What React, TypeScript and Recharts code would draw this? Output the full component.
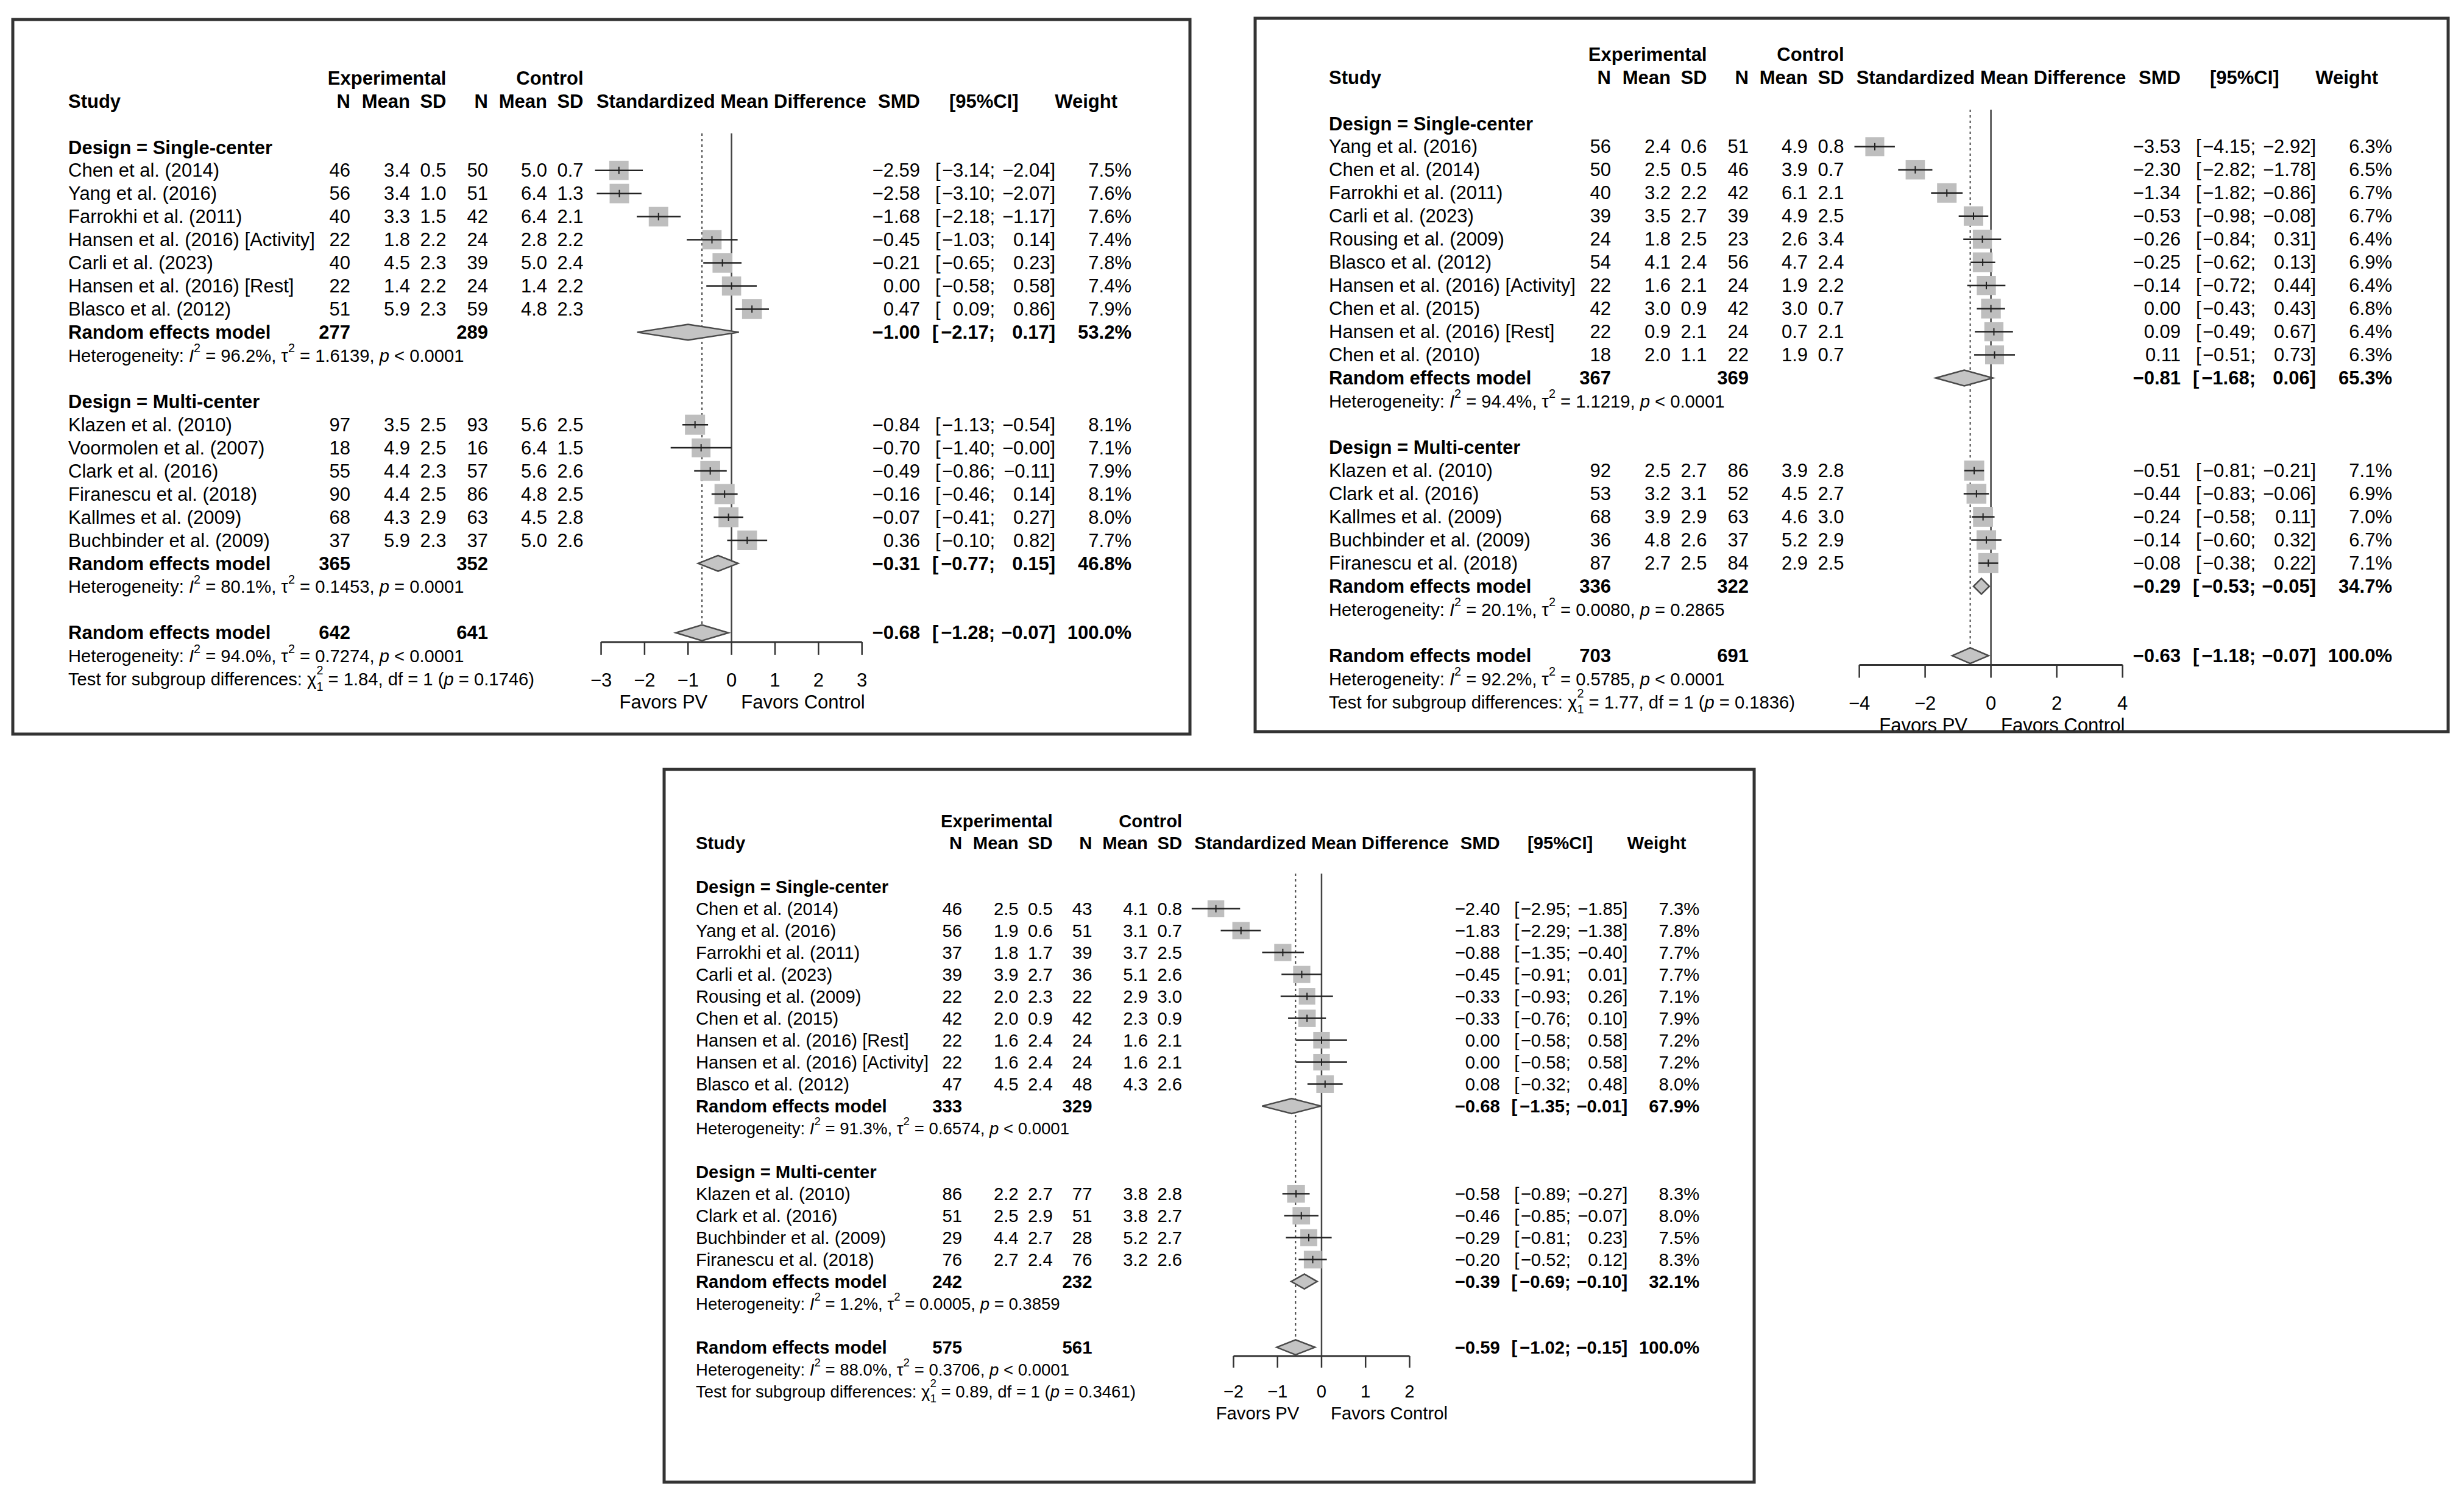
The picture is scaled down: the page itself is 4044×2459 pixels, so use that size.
import React from "react";
import { ScatterChart, Scatter, XAxis, YAxis, ReferenceLine } from "recharts";

const FONT = "'Liberation Sans', Arial, Helvetica, sans-serif";
const groupLabels = ["Design = Single-center", "Design = Multi-center"];

// ---------------- Panel A ----------------
const aStudy = ["Chen et al. (2014)", "Yang et al. (2016)", "Farrokhi et al. (2011)", "Hansen et al. (2016) [Activity]", "Carli et al. (2023)", "Hansen et al. (2016) [Rest]", "Blasco et al. (2012)", "Klazen et al. (2010)", "Voormolen et al. (2007)", "Clark et al. (2016)", "Firanescu et al. (2018)", "Kallmes et al. (2009)", "Buchbinder et al. (2009)"];
const aGroup = [0, 0, 0, 0, 0, 0, 0, 1, 1, 1, 1, 1, 1];
const aNE = [46, 56, 40, 22, 40, 22, 51, 97, 18, 55, 90, 68, 37];
const aMeanE = [3.4, 3.4, 3.3, 1.8, 4.5, 1.4, 5.9, 3.5, 4.9, 4.4, 4.4, 4.3, 5.9];
const aSdE = [0.5, 1.0, 1.5, 2.2, 2.3, 2.2, 2.3, 2.5, 2.5, 2.3, 2.5, 2.9, 2.3];
const aNC = [50, 51, 42, 24, 39, 24, 59, 93, 16, 57, 86, 63, 37];
const aMeanC = [5.0, 6.4, 6.4, 2.8, 5.0, 1.4, 4.8, 5.6, 6.4, 5.6, 4.8, 4.5, 5.0];
const aSdC = [0.7, 1.3, 2.1, 2.2, 2.4, 2.2, 2.3, 2.5, 1.5, 2.6, 2.5, 2.8, 2.6];
const aSmd = [-2.59, -2.58, -1.68, -0.45, -0.21, 0.0, 0.47, -0.84, -0.70, -0.49, -0.16, -0.07, 0.36];
const aLo = [-3.14, -3.10, -2.18, -1.03, -0.65, -0.58, 0.09, -1.13, -1.40, -0.86, -0.46, -0.41, -0.10];
const aHi = [-2.04, -2.07, -1.17, 0.14, 0.23, 0.58, 0.86, -0.54, -0.004, -0.11, 0.14, 0.27, 0.82];
const aW = [7.5, 7.6, 7.6, 7.4, 7.8, 7.4, 7.9, 8.1, 7.1, 7.9, 8.1, 8.0, 7.7];
const aSumNE = [277, 365, 642];
const aSumNC = [289, 352, 641];
const aSumSmd = [-1.0, -0.31, -0.68];
const aSumLo = [-2.17, -0.77, -1.28];
const aSumHi = [0.17, 0.15, -0.07];
const aSumW = [53.2, 46.8, 100.0];
const aHetI2 = [96.2, 80.1, 94.0];
const aHetTau2 = [1.6139, 0.1453, 0.7274];
const aHetPOp = ["<", "=", "<"];
const aHetP = [0.0001, 0.0001, 0.0001];
const aTest = [1.84, 1, 0.1746];
const aTicks = [-3, -2, -1, 0, 1, 2, 3];

// ---------------- Panel B ----------------
const bStudy = ["Yang et al. (2016)", "Chen et al. (2014)", "Farrokhi et al. (2011)", "Carli et al. (2023)", "Rousing et al. (2009)", "Blasco et al. (2012)", "Hansen et al. (2016) [Activity]", "Chen et al. (2015)", "Hansen et al. (2016) [Rest]", "Chen et al. (2010)", "Klazen et al. (2010)", "Clark et al. (2016)", "Kallmes et al. (2009)", "Buchbinder et al. (2009)", "Firanescu et al. (2018)"];
const bGroup = [0, 0, 0, 0, 0, 0, 0, 0, 0, 0, 1, 1, 1, 1, 1];
const bNE = [56, 50, 40, 39, 24, 54, 22, 42, 22, 18, 92, 53, 68, 36, 87];
const bMeanE = [2.4, 2.5, 3.2, 3.5, 1.8, 4.1, 1.6, 3.0, 0.9, 2.0, 2.5, 3.2, 3.9, 4.8, 2.7];
const bSdE = [0.6, 0.5, 2.2, 2.7, 2.5, 2.4, 2.1, 0.9, 2.1, 1.1, 2.7, 3.1, 2.9, 2.6, 2.5];
const bNC = [51, 46, 42, 39, 23, 56, 24, 42, 24, 22, 86, 52, 63, 37, 84];
const bMeanC = [4.9, 3.9, 6.1, 4.9, 2.6, 4.7, 1.9, 3.0, 0.7, 1.9, 3.9, 4.5, 4.6, 5.2, 2.9];
const bSdC = [0.8, 0.7, 2.1, 2.5, 3.4, 2.4, 2.2, 0.7, 2.1, 0.7, 2.8, 2.7, 3.0, 2.9, 2.5];
const bSmd = [-3.53, -2.30, -1.34, -0.53, -0.26, -0.25, -0.14, 0.0, 0.09, 0.11, -0.51, -0.44, -0.24, -0.14, -0.08];
const bLo = [-4.15, -2.82, -1.82, -0.98, -0.84, -0.62, -0.72, -0.43, -0.49, -0.51, -0.81, -0.83, -0.58, -0.60, -0.38];
const bHi = [-2.92, -1.78, -0.86, -0.08, 0.31, 0.13, 0.44, 0.43, 0.67, 0.73, -0.21, -0.06, 0.11, 0.32, 0.22];
const bW = [6.3, 6.5, 6.7, 6.7, 6.4, 6.9, 6.4, 6.8, 6.4, 6.3, 7.1, 6.9, 7.0, 6.7, 7.1];
const bSumNE = [367, 336, 703];
const bSumNC = [369, 322, 691];
const bSumSmd = [-0.81, -0.29, -0.63];
const bSumLo = [-1.68, -0.53, -1.18];
const bSumHi = [0.06, -0.05, -0.07];
const bSumW = [65.3, 34.7, 100.0];
const bHetI2 = [94.4, 20.1, 92.2];
const bHetTau2 = [1.1219, 0.008, 0.5785];
const bHetPOp = ["<", "=", "<"];
const bHetP = [0.0001, 0.2865, 0.0001];
const bTest = [1.77, 1, 0.1836];
const bTicks = [-4, -2, 0, 2, 4];

// ---------------- Panel C ----------------
const cStudy = ["Chen et al. (2014)", "Yang et al. (2016)", "Farrokhi et al. (2011)", "Carli et al. (2023)", "Rousing et al. (2009)", "Chen et al. (2015)", "Hansen et al. (2016) [Rest]", "Hansen et al. (2016) [Activity]", "Blasco et al. (2012)", "Klazen et al. (2010)", "Clark et al. (2016)", "Buchbinder et al. (2009)", "Firanescu et al. (2018)"];
const cGroup = [0, 0, 0, 0, 0, 0, 0, 0, 0, 1, 1, 1, 1];
const cNE = [46, 56, 37, 39, 22, 42, 22, 22, 47, 86, 51, 29, 76];
const cMeanE = [2.5, 1.9, 1.8, 3.9, 2.0, 2.0, 1.6, 1.6, 4.5, 2.2, 2.5, 4.4, 2.7];
const cSdE = [0.5, 0.6, 1.7, 2.7, 2.3, 0.9, 2.4, 2.4, 2.4, 2.7, 2.9, 2.7, 2.4];
const cNC = [43, 51, 39, 36, 22, 42, 24, 24, 48, 77, 51, 28, 76];
const cMeanC = [4.1, 3.1, 3.7, 5.1, 2.9, 2.3, 1.6, 1.6, 4.3, 3.8, 3.8, 5.2, 3.2];
const cSdC = [0.8, 0.7, 2.5, 2.6, 3.0, 0.9, 2.1, 2.1, 2.6, 2.8, 2.7, 2.7, 2.6];
const cSmd = [-2.40, -1.83, -0.88, -0.45, -0.33, -0.33, 0.0, 0.0, 0.08, -0.58, -0.46, -0.29, -0.20];
const cLo = [-2.95, -2.29, -1.35, -0.91, -0.93, -0.76, -0.58, -0.58, -0.32, -0.89, -0.85, -0.81, -0.52];
const cHi = [-1.85, -1.38, -0.40, 0.01, 0.26, 0.10, 0.58, 0.58, 0.48, -0.27, -0.07, 0.23, 0.12];
const cW = [7.3, 7.8, 7.7, 7.7, 7.1, 7.9, 7.2, 7.2, 8.0, 8.3, 8.0, 7.5, 8.3];
const cSumNE = [333, 242, 575];
const cSumNC = [329, 232, 561];
const cSumSmd = [-0.68, -0.39, -0.59];
const cSumLo = [-1.35, -0.69, -1.02];
const cSumHi = [-0.01, -0.10, -0.15];
const cSumW = [67.9, 32.1, 100.0];
const cHetI2 = [91.3, 1.2, 88.0];
const cHetTau2 = [0.6574, 0.0005, 0.3706];
const cHetPOp = ["<", "=", "<"];
const cHetP = [0.0001, 0.3859, 0.0001];
const cTest = [0.89, 1, 0.3461];
const cTicks = [-2, -1, 0, 1, 2];

const panels = [
  { study: aStudy, group: aGroup, nE: aNE, mE: aMeanE, sE: aSdE, nC: aNC, mC: aMeanC, sC: aSdC, smd: aSmd, lo: aLo, hi: aHi, w: aW, sNE: aSumNE, sNC: aSumNC, sSmd: aSumSmd, sLo: aSumLo, sHi: aSumHi, sW: aSumW, i2: aHetI2, tau2: aHetTau2, pOp: aHetPOp, p: aHetP, test: aTest, ticks: aTicks },
  { study: bStudy, group: bGroup, nE: bNE, mE: bMeanE, sE: bSdE, nC: bNC, mC: bMeanC, sC: bSdC, smd: bSmd, lo: bLo, hi: bHi, w: bW, sNE: bSumNE, sNC: bSumNC, sSmd: bSumSmd, sLo: bSumLo, sHi: bSumHi, sW: bSumW, i2: bHetI2, tau2: bHetTau2, pOp: bHetPOp, p: bHetP, test: bTest, ticks: bTicks },
  { study: cStudy, group: cGroup, nE: cNE, mE: cMeanE, sE: cSdE, nC: cNC, mC: cMeanC, sC: cSdC, smd: cSmd, lo: cLo, hi: cHi, w: cW, sNE: cSumNE, sNC: cSumNC, sSmd: cSumSmd, sLo: cSumLo, sHi: cSumHi, sW: cSumW, i2: cHetI2, tau2: cHetTau2, pOp: cHetPOp, p: cHetP, test: cTest, ticks: cTicks },
];

// layout (page pixels)
const LAYOUTS = [
  { x0: 112, y0: 242, rs: 37.95, sc: 1, c: 1200.3, u: 71.36, D: 3.4, box: 33, tickLen: 21, border: [21, 32, 1953, 1205] },
  { x0: 2181, y0: 203, rs: 37.98, sc: 1, c: 3268, u: 54.0, D: 4.4, box: 33, tickLen: 21, border: [2060, 30, 4018, 1201] },
  { x0: 1142, y0: 1456, rs: 36.0, sc: 0.944, c: 2169, u: 72.25, D: 3.1, box: 31, tickLen: 19, border: [1090, 1263, 2879, 2433] },
];

const fmt2 = (v: number) => (v < 0 ? "\u2212" : "") + Math.abs(v).toFixed(2);
const fmtTick = (v: number) => (v < 0 ? "\u2212" : "") + Math.abs(v);

function rowsOf(P: any) {
  const n1 = P.group.filter((g: number) => g === 0).length;
  const n2 = P.group.length - n1;
  const rowOf = (k: number) => (P.group[k] === 0 ? 1 + k : n1 + 5 + (k - n1));
  const sumRows = [n1 + 1, n1 + n2 + 5, n1 + n2 + 8];
  const groupRows = [0, n1 + 4];
  return { n1, n2, rowOf, sumRows, groupRows };
}

function Forest({ P, L }: any) {
  const { rowOf, sumRows } = rowsOf(P);
  const rTop = -0.6;
  const rAxis = sumRows[2] + 0.4;
  const M = 40;
  const XH = 120;
  const plotW = 2 * L.D * L.u;
  const plotH = (rAxis - rTop) * L.rs;
  const left = L.c - L.D * L.u - M;
  const top = L.y0 + rTop * L.rs - M;
  const maxW = Math.max(...P.w);
  const studies = P.study.map((s: string, k: number) => ({ name: s, x: P.smd[k], y: rowOf(k), w: P.w[k] }));
  // CI end points, consecutive pairs (lower, upper) for each study
  const ciPoints = P.study.flatMap((s: string, k: number) => [
    { name: s, x: P.lo[k], y: rowOf(k) },
    { name: s, x: P.hi[k], y: rowOf(k) },
  ]);
  const h = 0.34;
  const boxShape = (props: any) => {
    const w = props.payload ? props.payload.w : props.w;
    const s = L.box * L.sc * Math.sqrt(w / maxW);
    return <rect x={props.cx - s / 2} y={props.cy - s / 2} width={s} height={s} fill="#BEBEBE" />;
  };
  const tickShape = (props: any) => (
    <line x1={props.cx} x2={props.cx} y1={props.cy - 6} y2={props.cy + 6} stroke="#222" strokeWidth={2} />
  );
  const emptyShape = () => <g />;
  const ciLine = (lp: any) => {
    const pts = lp.points || [];
    const segs: any[] = [];
    for (let i = 0; i + 1 < pts.length; i += 2) {
      segs.push(<line key={i} x1={pts[i].x} y1={pts[i].y} x2={pts[i + 1].x} y2={pts[i + 1].y} stroke="#222" strokeWidth={2.5} />);
    }
    return <g>{segs}</g>;
  };
  const diamondLine = (lp: any) => (
    <polygon
      points={(lp.points || []).map((q: any) => `${q.x},${q.y}`).join(" ")}
      fill="#C4C4C4"
      stroke="#4a4a4a"
      strokeWidth={2.5}
    />
  );
  const tot = P.sSmd[2];
  const t0 = P.ticks[0];
  const t1 = P.ticks[P.ticks.length - 1];
  return (
    <div style={{ position: "absolute", left, top }}>
      <ScatterChart width={plotW + 2 * M} height={plotH + M + XH} margin={{ top: M, right: M, bottom: 0, left: M }}>
        <XAxis
          type="number"
          dataKey="x"
          domain={[-L.D, L.D]}
          ticks={P.ticks}
          interval={0}
          axisLine={false}
          tickSize={L.tickLen}
          tickMargin={30 * L.sc}
          height={XH}
          stroke="#333"
          tickLine={{ stroke: "#333", strokeWidth: 2.5 }}
          tick={{ fontSize: 31 * L.sc, fill: "#000", fontFamily: FONT }}
          tickFormatter={fmtTick}
        />
        <YAxis type="number" dataKey="y" domain={[rTop, rAxis]} reversed hide />
        <ReferenceLine segment={[{ x: 0, y: rTop }, { x: 0, y: rAxis }]} stroke="#444" strokeWidth={2.5} ifOverflow="visible" />
        <ReferenceLine segment={[{ x: tot, y: rTop }, { x: tot, y: sumRows[2] }]} stroke="#444" strokeWidth={2} strokeDasharray="4 5" ifOverflow="visible" />
        <ReferenceLine segment={[{ x: t0, y: rAxis }, { x: t1, y: rAxis }]} stroke="#333" strokeWidth={3} ifOverflow="visible" />
        <Scatter data={studies} shape={boxShape} isAnimationActive={false} />
        <Scatter data={ciPoints} shape={emptyShape} line={ciLine} lineType="joint" isAnimationActive={false} />
        <Scatter data={studies} shape={tickShape} isAnimationActive={false} />
        {sumRows.map((r: number, j: number) => (
          <Scatter
            key={"d" + j}
            data={[
              { x: P.sLo[j], y: r },
              { x: P.sSmd[j], y: r - h },
              { x: P.sHi[j], y: r },
              { x: P.sSmd[j], y: r + h },
            ]}
            shape={emptyShape}
            line={diamondLine}
            lineType="joint"
            isAnimationActive={false}
          />
        ))}
      </ScatterChart>
    </div>
  );
}

function PanelText({ P, L }: any) {
  const { rowOf, sumRows, groupRows } = rowsOf(P);
  const X = (o: number) => L.x0 + o * L.sc;
  const Y = (r: number) => L.y0 + r * L.rs;
  const fs = 31 * L.sc;
  const hs = 29.2 * L.sc;
  const out: any[] = [];
  let key = 0;
  const t = (x: number, y: number, s: number, content: any, anchor = "start", bold = false) =>
    out.push(
      <text key={key++} x={x} y={y} fontSize={s} textAnchor={anchor} fontWeight={bold ? "bold" : "normal"} dominantBaseline="central" fontFamily={FONT} fill="#000">
        {content}
      </text>
    );
  // headers
  t(X(620.5), Y(-3), fs, "Experimental", "end", true);
  t(X(845.5), Y(-3), fs, "Control", "end", true);
  t(X(0), Y(-2), fs, "Study", "start", true);
  const hdr: [string, number][] = [["N", 463], ["Mean", 561], ["SD", 620.5], ["N", 689], ["Mean", 786], ["SD", 845.5]];
  hdr.forEach(([s, o]) => t(X(o), Y(-2), fs, s, "end", true));
  t(L.c, Y(-2), fs, "Standardized Mean Difference", "middle", true);
  t(X(1398), Y(-2), fs, "SMD", "end", true);
  t(X(1446), Y(-2), fs, "[95%CI]", "start", true);
  t(X(1722), Y(-2), fs, "Weight", "end", true);

  const nums = (r: number, smd: number, lo: number, hi: number, w: number, bold: boolean) => {
    t(X(1398), Y(r), fs, fmt2(smd), "end", bold);
    t(X(bold ? 1418 : 1423), Y(r), fs, "[", "start", bold);
    t(X(1521), Y(r), fs, fmt2(lo) + ";", "end", bold);
    t(X(1620), Y(r), fs, fmt2(hi) + "]", "end", bold);
    t(X(1745), Y(r), fs, w.toFixed(1) + "%", "end", bold);
  };
  // group labels
  groupRows.forEach((r: number, j: number) => t(X(0), Y(r), fs, groupLabels[j], "start", true));
  // studies
  P.study.forEach((s: string, k: number) => {
    const r = rowOf(k);
    t(X(0), Y(r), fs, s);
    t(X(463), Y(r), fs, String(P.nE[k]), "end");
    t(X(561), Y(r), fs, P.mE[k].toFixed(1), "end");
    t(X(620.5), Y(r), fs, P.sE[k].toFixed(1), "end");
    t(X(689), Y(r), fs, String(P.nC[k]), "end");
    t(X(786), Y(r), fs, P.mC[k].toFixed(1), "end");
    t(X(845.5), Y(r), fs, P.sC[k].toFixed(1), "end");
    nums(r, P.smd[k], P.lo[k], P.hi[k], P.w[k], false);
  });
  // summaries + heterogeneity
  sumRows.forEach((r: number, j: number) => {
    t(X(0), Y(r), fs, "Random effects model", "start", true);
    t(X(463), Y(r), fs, String(P.sNE[j]), "end", true);
    t(X(689), Y(r), fs, String(P.sNC[j]), "end", true);
    nums(r, P.sSmd[j], P.sLo[j], P.sHi[j], P.sW[j], true);
    const sup = hs * 0.68;
    out.push(
      <text key={key++} x={X(0)} y={Y(r + 1)} fontSize={hs} dominantBaseline="central" fontFamily={FONT} fill="#000">
        <tspan>{"Heterogeneity: "}</tspan>
        <tspan fontStyle="italic">I</tspan>
        <tspan fontSize={sup} dy={-hs * 0.42}>2</tspan>
        <tspan dy={hs * 0.42}>{` = ${P.i2[j].toFixed(1)}%, \u03C4`}</tspan>
        <tspan fontSize={sup} dy={-hs * 0.42}>2</tspan>
        <tspan dy={hs * 0.42}>{` = ${P.tau2[j].toFixed(4)}, `}</tspan>
        <tspan fontStyle="italic">p</tspan>
        <tspan>{` ${P.pOp[j]} ${P.p[j].toFixed(4)}`}</tspan>
      </text>
    );
  });
  // test for subgroup differences
  const rt = sumRows[2] + 2;
  const sub = hs * 0.68;
  out.push(
    <text key={key++} x={X(0)} y={Y(rt)} fontSize={hs} dominantBaseline="central" fontFamily={FONT} fill="#000">
      <tspan>{"Test for subgroup differences: \u03C7"}</tspan>
      <tspan fontSize={sub} dy={-hs * 0.5}>2</tspan>
      <tspan fontSize={sub} dx={-sub * 0.556} dy={hs * 0.9}>1</tspan>
      <tspan dy={-hs * 0.4}>{` = ${P.test[0].toFixed(2)}, df = ${P.test[1]} (`}</tspan>
      <tspan fontStyle="italic">p</tspan>
      <tspan>{` = ${P.test[2].toFixed(4)})`}</tspan>
    </text>
  );
  // favours labels
  t(L.c - 39 * L.sc, Y(sumRows[2] + 3), fs, "Favors PV", "end");
  t(L.c + 16 * L.sc, Y(sumRows[2] + 3), fs, "Favors Control", "start");
  // border
  const [bx0, by0, bx1, by1] = L.border;
  out.push(<rect key={key++} x={bx0} y={by0} width={bx1 - bx0} height={by1 - by0} fill="none" stroke="#333" strokeWidth={5} />);
  return <g>{out}</g>;
}

export default function App() {
  return (
    <div style={{ position: "absolute", left: 0, top: 0, width: 4044, height: 2459, background: "#fff", overflow: "hidden" }}>
      {panels.map((P, i) => (
        <Forest key={"f" + i} P={P} L={LAYOUTS[i]} />
      ))}
      <svg width={4044} height={2459} style={{ position: "absolute", left: 0, top: 0, pointerEvents: "none" }}>
        {panels.map((P, i) => (
          <PanelText key={"t" + i} P={P} L={LAYOUTS[i]} />
        ))}
      </svg>
    </div>
  );
}
